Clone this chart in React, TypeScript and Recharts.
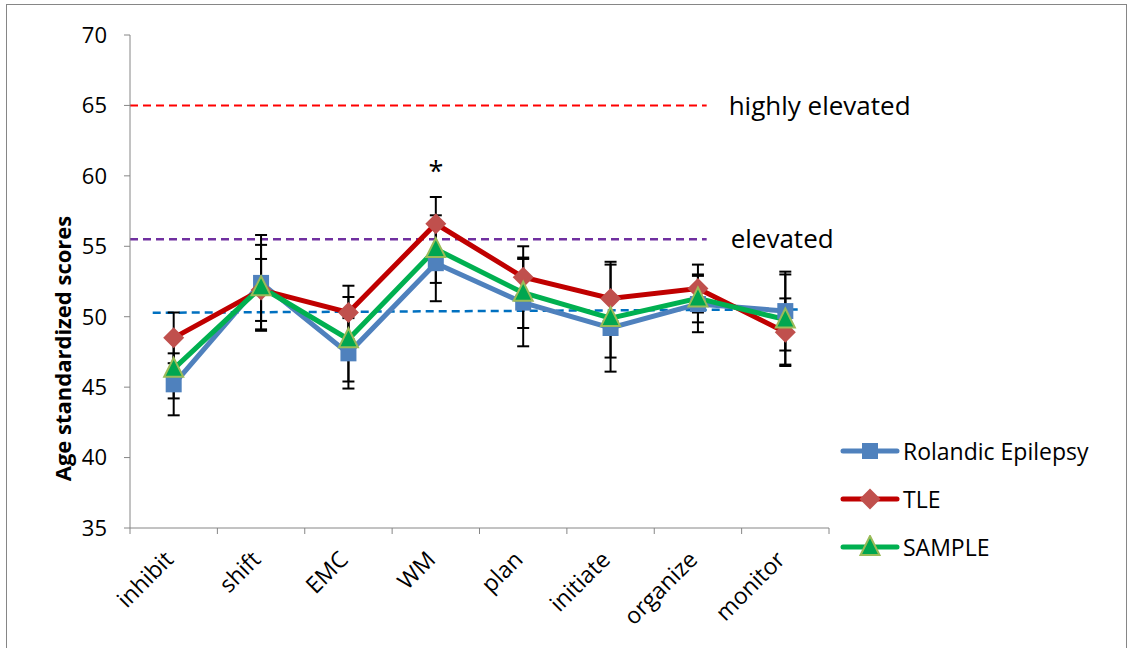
import React from "react";
import {
  LineChart,
  Line,
  XAxis,
  YAxis,
  ErrorBar,
  ReferenceLine,
  ReferenceDot,
  Legend,
  Label,
} from "recharts";

const FONT = "'Open Sans', sans-serif";

const categories = ["inhibit", "shift", "EMC", "WM", "plan", "initiate", "organize", "monitor"];

const rolandic = [45.2, 52.4, 47.4, 53.8, 51.0, 49.2, 50.9, 50.4];
const tle = [48.5, 51.9, 50.3, 56.6, 52.8, 51.3, 52.0, 48.9];
const sample = [46.3, 52.1, 48.4, 54.8, 51.7, 49.9, 51.3, 49.8];

const rolandicErr = [2.2, 3.4, 2.5, 2.7, 3.1, 2.1, 2.0, 2.8];
const tleErr = [1.8, 2.2, 1.9, 1.9, 2.2, 2.6, 1.7, 2.4];
const sampleErr = [2.1, 3.0, 3.0, 2.4, 2.5, 3.8, 1.7, 3.2];

const seriesOrder = ["rolandic", "tle", "sample"];

const yTicks = [35, 40, 45, 50, 55, 60, 65, 70];

// dashed threshold lines (x in category units, 0 = left edge)
const highlyElevated = 65;
const elevated = 55.5;
const thresholdEnd = 6.6;
const normalLine = [
  { x: 0.26, y: 50.28 },
  { x: 7.67, y: 50.52 },
];
const starAt = { x: 3.5, y: 60.35 };

const data = categories.map((name, i) => ({
  x: i + 0.5,
  name,
  rolandic: rolandic[i],
  tle: tle[i],
  sample: sample[i],
  rolandicErr: rolandicErr[i],
  tleErr: tleErr[i],
  sampleErr: sampleErr[i],
}));

// tick marks sit between categories, labels at the centres
const xTicks = categories.flatMap((_, i) => [i, i + 0.5]).concat(categories.length);

const BLUE = "#4F81BD";
const RED_LINE = "#C00000";
const RED_FILL = "#C0504D";
const GREEN = "#00A650";
const GREEN_EDGE = "#9BBB59";

const marker = (key: string, cx: number, cy: number) => {
  if (key === "rolandic") {
    return <rect x={cx - 8} y={cy - 8} width={16} height={16} fill={BLUE} />;
  }
  if (key === "tle") {
    return (
      <polygon
        points={`${cx},${cy - 10.5} ${cx + 10.5},${cy} ${cx},${cy + 10.5} ${cx - 10.5},${cy}`}
        fill={RED_FILL}
      />
    );
  }
  return (
    <polygon
      points={`${cx},${cy - 11} ${cx + 9.5},${cy + 8} ${cx - 9.5},${cy + 8}`}
      fill={GREEN}
      stroke={GREEN_EDGE}
      strokeWidth={2}
    />
  );
};

const makeDot = (key: string) => (props: any) => {
  const { cx, cy, index } = props;
  if (cx == null || cy == null) return <g key={index} />;
  return <g key={index}>{marker(key, cx, cy)}</g>;
};

const XTick = (props: any) => {
  const { x, y, payload } = props;
  const v = payload.value;
  if (Number.isInteger(v)) {
    return <line x1={x} x2={x} y1={y} y2={y + 6} stroke="#868686" strokeWidth={1} />;
  }
  const name = categories[Math.floor(v)];
  return (
    <g transform={`translate(${x + 1},${y + 33})`}>
      <text
        transform="rotate(-45)"
        textAnchor="end"
        fill="#000"
        fontSize={23}
        fontFamily={FONT}
      >
        {name}
      </text>
    </g>
  );
};

const renderLegend = (props: any) => {
  const payload = [...(props.payload || [])].sort(
    (a: any, b: any) => seriesOrder.indexOf(a.dataKey) - seriesOrder.indexOf(b.dataKey)
  );
  return (
    <div style={{ fontFamily: FONT, fontSize: 23, color: "#000" }}>
      {payload.map((entry: any) => (
        <div
          key={entry.value}
          style={{ display: "flex", alignItems: "center", height: 48 }}
        >
          <svg width={60} height={24} style={{ flexShrink: 0 }}>
            <line
              x1={3}
              x2={57}
              y1={12}
              y2={12}
              stroke={entry.color}
              strokeWidth={5}
              strokeLinecap="round"
            />
            {marker(entry.dataKey, 30, 12)}
          </svg>
          <span style={{ marginLeft: 3, whiteSpace: "nowrap" }}>{entry.value}</span>
        </div>
      ))}
    </div>
  );
};

export default function App() {
  return (
    <div
      style={{
        position: "fixed",
        left: 6,
        top: 4,
        width: 1119,
        height: 660,
        border: "1px solid #868686",
        background: "#fff",
      }}
    >
      <LineChart
        width={1119}
        height={640}
        data={data}
        margin={{ top: 30, right: 297, bottom: 37, left: 43 }}
      >
        <XAxis
          dataKey="x"
          type="number"
          domain={[0, categories.length]}
          ticks={xTicks}
          interval={0}
          tick={<XTick />}
          tickLine={false}
          tickSize={0}
          tickMargin={0}
          axisLine={{ stroke: "#868686" }}
          height={80}
        />
        <YAxis
          type="number"
          domain={[35, 70]}
          ticks={yTicks}
          interval={0}
          width={80}
          tickSize={6}
          tickMargin={17}
          tickLine={{ stroke: "#868686" }}
          axisLine={{ stroke: "#868686" }}
          tick={{ fill: "#000", fontSize: 22, fontFamily: FONT }}
        >
          <Label
            content={(p: any) => {
              const vb = p.viewBox;
              const cx = vb.x + 12;
              const cy = vb.y + vb.height / 2 + 67;
              return (
                <text
                  x={cx}
                  y={cy}
                  transform={`rotate(-90 ${cx} ${cy})`}
                  textAnchor="middle"
                  dominantBaseline="central"
                  fontFamily={FONT}
                  fontWeight="bold"
                  fontSize={22}
                  fill="#000"
                >
                  Age standardized scores
                </text>
              );
            }}
          />
        </YAxis>

        <ReferenceLine
          segment={[
            { x: 0, y: highlyElevated },
            { x: thresholdEnd, y: highlyElevated },
          ]}
          stroke="#FF0000"
          strokeWidth={2}
          strokeDasharray="8 5"
          label={{
            value: "highly elevated",
            position: "right",
            offset: 22,
            fill: "#000",
            fontSize: 26,
            fontFamily: FONT,
          }}
        />
        <ReferenceLine
          segment={[
            { x: 0, y: elevated },
            { x: thresholdEnd, y: elevated },
          ]}
          stroke="#7030A0"
          strokeWidth={2.5}
          strokeDasharray="8 5"
          label={{
            value: "elevated",
            position: "right",
            offset: 24,
            fill: "#000",
            fontSize: 26,
            fontFamily: FONT,
          }}
        />
        <ReferenceLine
          segment={normalLine}
          stroke="#0070C0"
          strokeWidth={2.5}
          strokeDasharray="8 5"
        />

        <Line
          dataKey="rolandic"
          name="Rolandic Epilepsy"
          stroke={BLUE}
          strokeWidth={5}
          dot={makeDot("rolandic")}
          activeDot={false}
          isAnimationActive={false}
        >
          <ErrorBar dataKey="rolandicErr" direction="y" width={6} stroke="#000" strokeWidth={2} />
        </Line>
        <Line
          dataKey="tle"
          name="TLE"
          stroke={RED_LINE}
          strokeWidth={5}
          dot={makeDot("tle")}
          activeDot={false}
          isAnimationActive={false}
        >
          <ErrorBar dataKey="tleErr" direction="y" width={6} stroke="#000" strokeWidth={2} />
        </Line>
        <Line
          dataKey="sample"
          name="SAMPLE"
          stroke="#00B050"
          strokeWidth={5}
          dot={makeDot("sample")}
          activeDot={false}
          isAnimationActive={false}
        >
          <ErrorBar dataKey="sampleErr" direction="y" width={6} stroke="#000" strokeWidth={2} />
        </Line>

        <ReferenceDot
          x={starAt.x}
          y={starAt.y}
          r={1}
          fill="none"
          stroke="none"
          label={{ value: "*", position: "center", fontSize: 27, fill: "#000", fontFamily: FONT }}
        />

        <Legend
          layout="vertical"
          align="center"
          verticalAlign="middle"
          content={renderLegend}
          wrapperStyle={{ left: 833, top: 422, width: 285 }}
        />
      </LineChart>
    </div>
  );
}
